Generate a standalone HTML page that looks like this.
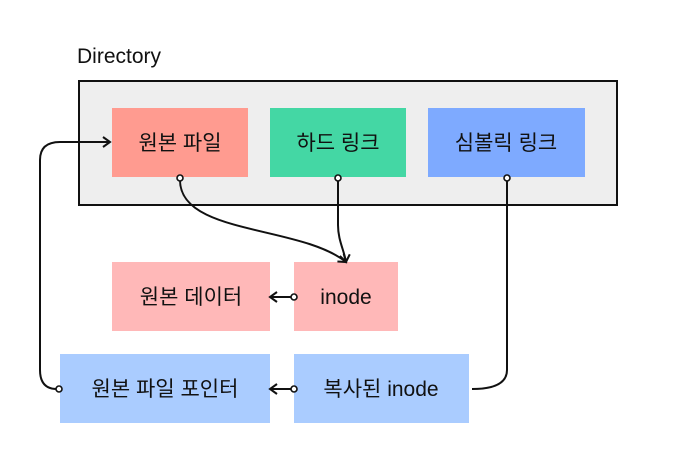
<!DOCTYPE html>
<html><head><meta charset="utf-8"><style>
body{margin:0;background:#fff;width:680px;height:464px;overflow:hidden}
svg text{font-family:"Liberation Sans","Noto Sans CJK KR",sans-serif;font-size:21px;fill:#111}
</style></head><body>
<svg width="680" height="464" xmlns="http://www.w3.org/2000/svg">
<defs><marker id="a" markerWidth="12" markerHeight="12" refX="9" refY="6" orient="auto" markerUnits="userSpaceOnUse"><path d="M2,1 L9,6 L2,11" fill="none" stroke="#111" stroke-width="2"/></marker></defs>
<text x="77" y="63">Directory</text>
<rect x="79" y="81" width="538" height="124" fill="#eeeeee" stroke="#111" stroke-width="2"/>
<rect x="112" y="108" width="136" height="69" fill="#ff9b90"/>
<rect x="270" y="108" width="136" height="69" fill="#44d7a4"/>
<rect x="428" y="108" width="157" height="69" fill="#7eaaff"/>
<rect x="112" y="262" width="158" height="69" fill="#ffb8b8"/>
<rect x="294" y="262" width="104" height="69" fill="#ffb8b8"/>
<rect x="60" y="354" width="210" height="69" fill="#aaccff"/>
<rect x="294" y="354" width="175" height="69" fill="#aaccff"/>
<g text-anchor="middle">
<text x="180" y="150">원본 파일</text>
<text x="338" y="150">하드 링크</text>
<text x="506" y="150">심볼릭 링크</text>
<text x="191" y="304">원본 데이터</text>
<text x="346" y="304">inode</text>
<text x="165" y="396">원본 파일 포인터</text>
<text x="381" y="396">복사된 inode</text>
</g>
<g fill="none" stroke="#111" stroke-width="2">
<path d="M180,180 C180,235 300,225 346,262" marker-end="url(#a)"/>
<path d="M338,180 L338,225 C338,240 344,250 346,262" marker-end="url(#a)"/>
<path d="M507,180 L507,370 Q507,389 472,389"/>
<path d="M57,389 Q40,389 40,370 L40,160 Q40,142 60,142 L110,142" marker-end="url(#a)"/>
<path d="M291,297 L270,297" marker-end="url(#a)"/>
<path d="M291,389 L270,389" marker-end="url(#a)"/>
</g>
<g fill="#fff" stroke="#111" stroke-width="1.6">
<circle cx="180" cy="178" r="3"/><circle cx="338" cy="178" r="3"/><circle cx="507" cy="178" r="3"/>
<circle cx="294" cy="297" r="3"/><circle cx="294" cy="389" r="3"/><circle cx="59" cy="389" r="3"/>
</g>
</svg>
</body></html>
